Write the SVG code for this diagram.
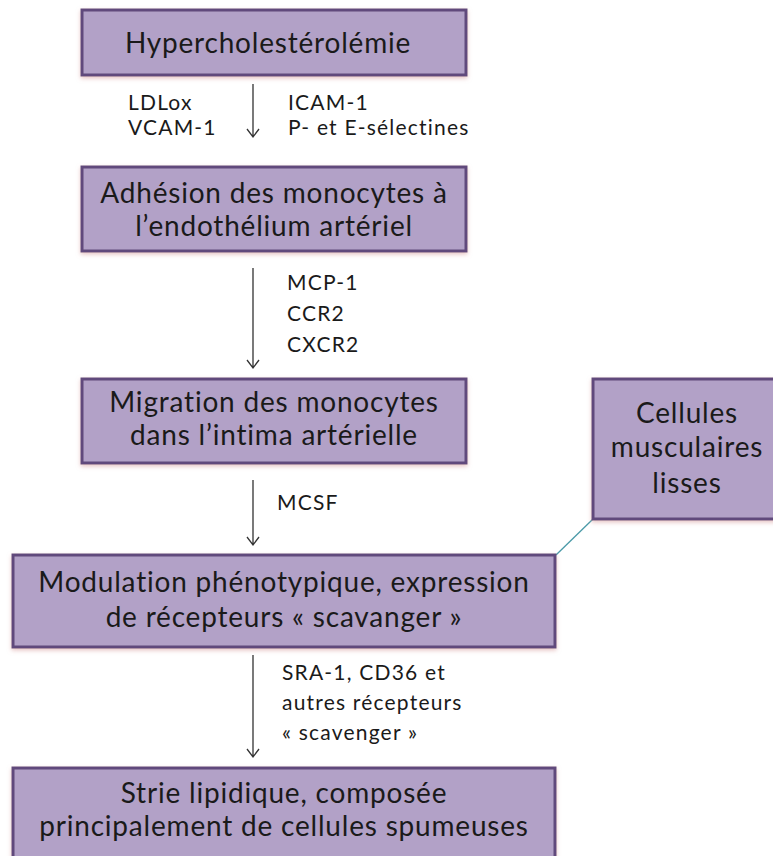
<svg xmlns="http://www.w3.org/2000/svg" width="773" height="856" viewBox="0 0 773 856">
<defs>
<style>
.box{fill:#b2a1c7;stroke:#604a7b;stroke-width:3}
.bt{font-family:Lato,"Open Sans","Liberation Sans",sans-serif;font-size:28px;letter-spacing:0.8px;fill:#1a1a1a;text-anchor:middle}
.lb{font-family:Lato,"Open Sans","Liberation Sans",sans-serif;font-size:21px;letter-spacing:1.2px;fill:#1a1a1a}
.ar{stroke:#333;stroke-width:1.3;fill:none}
</style>
<filter id="sh" x="-10%" y="-10%" width="120%" height="130%">
<feDropShadow dx="0" dy="2" stdDeviation="2" flood-color="#d9a0a0" flood-opacity="0.6"/>
</filter>
</defs>
<g id="connectors">
<path class="ar" d="M253 84V137M247 129L253 137L259 129"/>
<path class="ar" d="M253 268V368M247 360L253 368L259 360"/>
<path class="ar" d="M253 480V545M247 537L253 545L259 537"/>
<path class="ar" d="M253 655V757M247 749L253 757L259 749"/>
<line x1="593" y1="519" x2="556" y2="555" stroke="#4a9aa8" stroke-width="1.3"/>
</g>
<g id="labels">
<text class="lb" x="128" y="110">LDLox</text>
<text class="lb" x="128" y="135">VCAM-1</text>
<text class="lb" x="288" y="110">ICAM-1</text>
<text class="lb" x="288" y="135">P- et E-sélectines</text>
<text class="lb" x="287" y="290">MCP-1</text>
<text class="lb" x="287" y="321">CCR2</text>
<text class="lb" x="287" y="352">CXCR2</text>
<text class="lb" x="277" y="510">MCSF</text>
<text class="lb" x="282" y="680">SRA-1, CD36 et</text>
<text class="lb" x="282" y="710">autres récepteurs</text>
<text class="lb" x="282" y="740">« scavenger »</text>
</g>
<g id="n1">
<rect class="box" filter="url(#sh)" x="82" y="10" width="384" height="65"/>
<text class="bt" x="268" y="53">Hypercholestérolémie</text>
</g>
<g id="n2">
<rect class="box" filter="url(#sh)" x="82" y="167" width="384" height="84"/>
<text class="bt" x="274" y="203">Adhésion des monocytes à</text>
<text class="bt" x="274" y="236">l’endothélium artériel</text>
</g>
<g id="n3">
<rect class="box" filter="url(#sh)" x="82" y="379" width="384" height="84"/>
<text class="bt" x="274" y="412">Migration des monocytes</text>
<text class="bt" x="274" y="445">dans l’intima artérielle</text>
</g>
<g id="n4">
<rect class="box" filter="url(#sh)" x="593" y="379" width="190" height="140"/>
<text class="bt" x="687" y="423">Cellules</text>
<text class="bt" x="687" y="457">musculaires</text>
<text class="bt" x="687" y="493">lisses</text>
</g>
<g id="n5">
<rect class="box" filter="url(#sh)" x="13" y="555" width="542" height="92"/>
<text class="bt" x="284" y="592">Modulation phénotypique, expression</text>
<text class="bt" x="284" y="627">de récepteurs « scavanger »</text>
</g>
<g id="n6">
<rect class="box" filter="url(#sh)" x="13" y="768" width="542" height="95"/>
<text class="bt" x="284" y="803">Strie lipidique, composée</text>
<text class="bt" x="284" y="836">principalement de cellules spumeuses</text>
</g>
</svg>
